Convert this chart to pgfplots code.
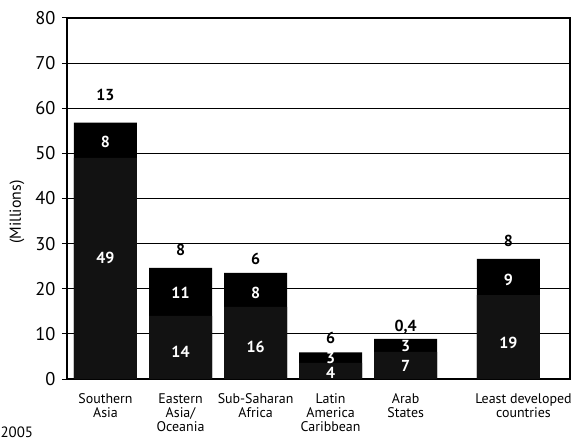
\documentclass[border=0pt]{standalone}
\usepackage{pgfplots}
\pgfplotsset{compat=1.18}
\usepackage{pgfplotstable}
\usepackage{fontspec}
\setmainfont{PT Sans}

% bar heights (Millions): lower textured part, whole bar
\pgfplotstableread{
x     low   total
0     49    56.8
1     14    24.6
2     16    23.5
3     3.6   5.9
4     6     8.9
5.37  18.6  26.6
}\bars

% white labels inside the bars
\pgfplotstableread{
x     y     lab
0     52.6  8
0     26.8  49
1     19    11
1     6     14
2     19    8
2     7     16
3     4.6   3
3     1.4   4
4     7.3   3
4     2.8   7
5.37  22    9
5.37  8     19
}\inlabels

% black labels above the bars
\pgfplotstableread{
x     y     lab
0     63    13
1     28.5  8
2     26.5  6
3     9.2   6
4     11.5  0,4
5.37  30.5  8
}\toplabels

\begin{document}
\begin{tikzpicture}
\useasboundingbox (-67bp,-66bp) rectangle (506bp,379bp);
\begin{axis}[
    at={(0,0)}, anchor=south west,
    scale only axis,
    width=503bp, height=361bp,
    xmin=-0.513, xmax=6.19,
    ymin=0, ymax=80,
    ytick={0,10,...,80},
    ymajorgrids,
    grid style={black, line width=1.1pt},
    axis line style={black, line width=1.3pt},
    ytick pos=left,
    tick align=outside,
    major tick length=5bp,
    tick style={black, line width=1pt},
    xtick={0,1,2,3,4,5.37},
    xticklabels={Southern\\Asia, Eastern\\Asia/\\Oceania, Sub-Saharan\\Africa,
        Latin\\America\\Caribbean, Arab\\States,
        \hspace*{30bp}Least developed\\\hspace*{30bp}countries},
    xtick style={draw=none},
    xticklabel style={align=center, font=\fontsize{14}{14}\selectfont, yshift=-6bp},
    yticklabel style={font=\fontsize{18.5}{19}\selectfont, xshift=-3bp},
    /pgf/number format/assume math mode=true,
    clip=false,
]
\addplot[ybar, bar width=63bp, bar shift=0pt, fill=black, draw=none]
    table[x=x, y=total] {\bars};
\addplot[ybar, bar width=63bp, bar shift=0pt, fill=black!93, draw=none]
    table[x=x, y=low] {\bars};
\addplot[only marks, mark=none, nodes near coords, point meta=explicit symbolic,
    nodes near coords align=center,
    every node near coord/.append style={text=white, font=\fontsize{16}{17}\selectfont\bfseries}]
    table[x=x, y=y, meta=lab] {\inlabels};
\addplot[only marks, mark=none, nodes near coords, point meta=explicit symbolic,
    nodes near coords align=center,
    every node near coord/.append style={text=black, font=\fontsize{16}{17}\selectfont\bfseries}]
    table[x=x, y=y, meta=lab] {\toplabels};
\end{axis}
\node[rotate=90, font=\fontsize{16}{17}\selectfont] at (-50bp,167bp) {(Millions)};
\node[anchor=west, font=\fontsize{15}{16}\selectfont] at (-70bp,-53bp) {2005};
\end{tikzpicture}
\end{document}
